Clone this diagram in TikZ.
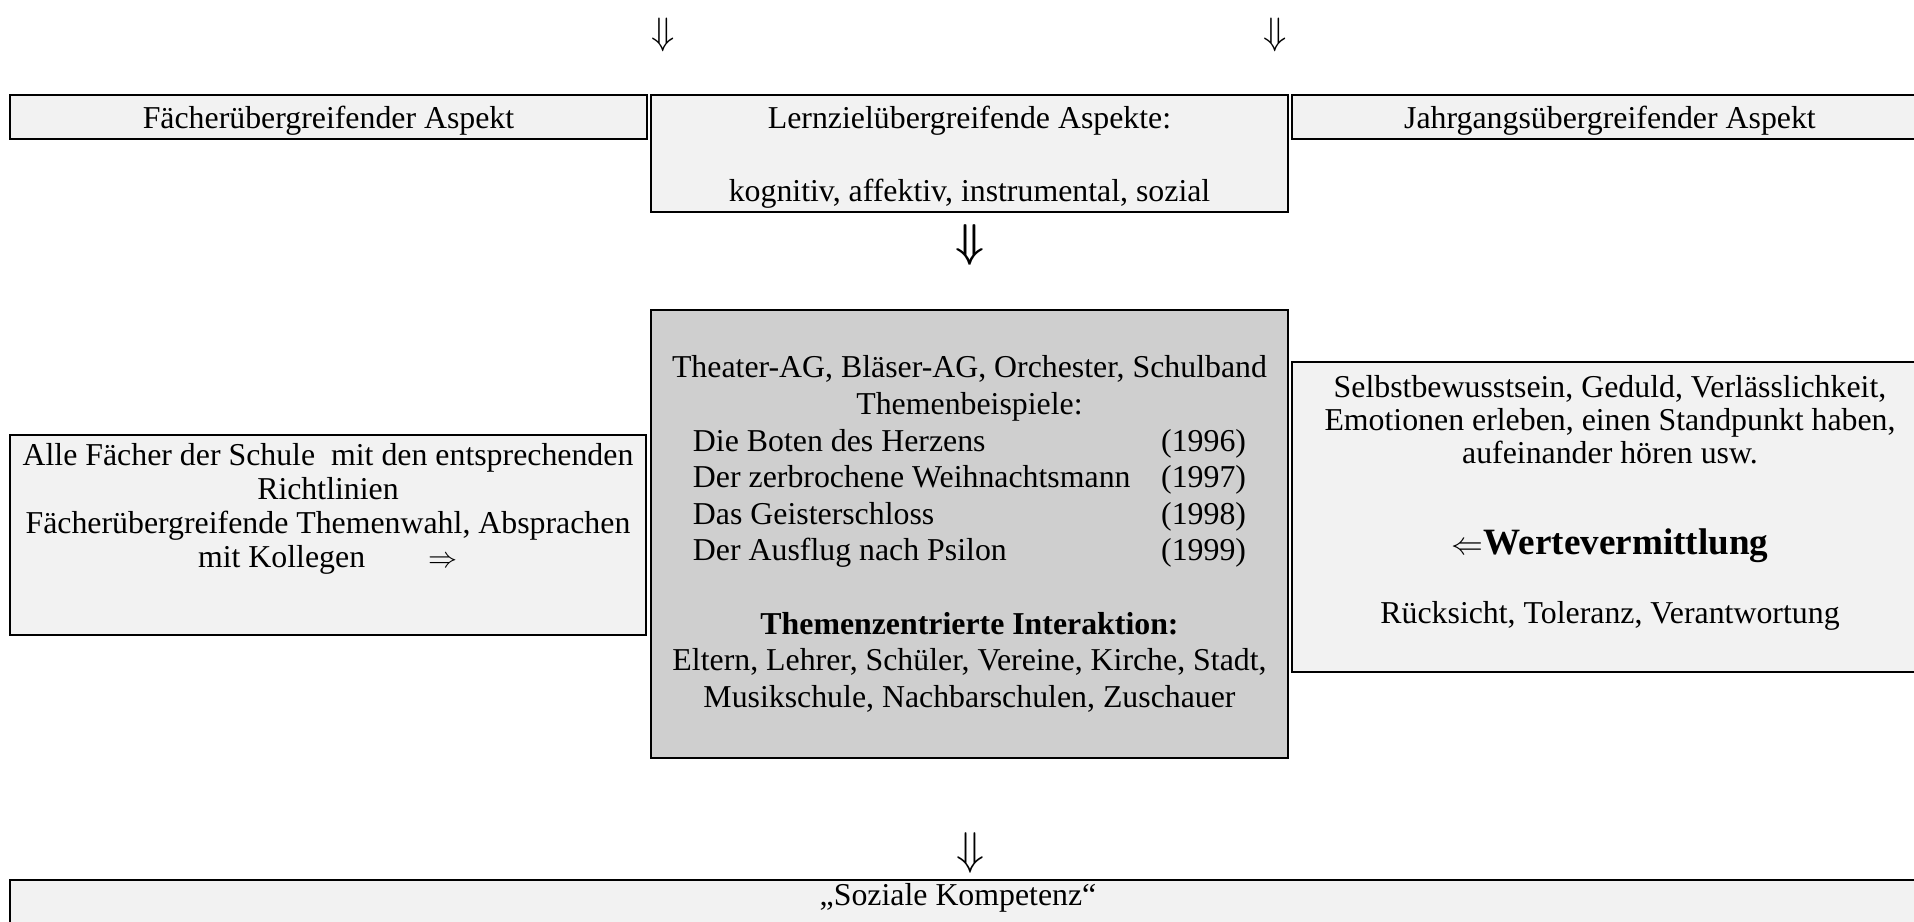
\documentclass[tikz,border=0pt]{standalone}
\usepackage{fontspec}
\setmainfont{Liberation Serif}

\definecolor{hellgrau}{HTML}{F2F2F2}
\definecolor{mittelgrau}{HTML}{CFCFCF}

\tikzset{
	feld/.style={draw,line width=0.75pt,fill=hellgrau,minimum width=240pt,inner xsep=2pt,inner ysep=1pt,
		align=center,font=\fontsize{12}{13.8}\selectfont},
	pfeil/.style={inner sep=0pt,font=\fontsize{14}{14}\selectfont}
}

\begin{document}
\begin{tikzpicture}[x=0.377pt,y=-0.377pt]
				\useasboundingbox (0,0) rectangle (1914,922);
				
				% Arrows on top
				\foreach \n/\x in {pfeila/663,pfeilb/1275}
				\node[pfeil] (\n) at (\x,35) {$\Downarrow$};
				
				% First row
				\node[feld,minimum height=16.6pt,text height=11.5pt,text depth=2.5pt] (faecher) at (328.5,117)
				{Fächerübergreifender Aspekt};
				\node[feld,minimum height=44.1pt,text height=38.6pt] (lernziel) at (969.5,153.5)
				{Lernzielübergreifende Aspekte:\\[13.8pt]kognitiv, affektiv, instrumental, sozial};
				\node[feld,minimum height=16.6pt,text height=11.5pt,text depth=2.5pt] (jahrgang) at (1610,117)
				{Jahrgangsübergreifender Aspekt};
				\node[pfeil,font=\fontsize{19}{19}\selectfont,text height=13.2pt,text depth=3.7pt] (pfeilc) at (970,244)
				{\makebox[0pt][l]{$\Downarrow$}\hspace{0.7pt}$\Downarrow$};
				
				% Second row
				\node[feld,minimum height=75.4pt,text depth=22pt,font=\fontsize{12}{12.8}\selectfont] (alle) at (328,535)
				{Alle Fächer der Schule\ \ mit den entsprechenden\\Richtlinien\\
					Fächerübergreifende Themenwahl, Absprachen\\
					mit Kollegen\hspace{24pt}{\fontsize{11}{11}\selectfont$\Rightarrow$}};
				\node[feld,fill=mittelgrau,minimum height=168.9pt] (projekt) at (969.5,534)
				{Theater-AG, Bläser-AG, Orchester, Schulband\\Themenbeispiele:\\
					\makebox[208.5pt]{Die Boten des Herzens\hfill(1996)}\\
					\makebox[208.5pt]{Der zerbrochene Weihnachtsmann\hfill(1997)}\\
					\makebox[208.5pt]{Das Geisterschloss\hfill(1998)}\\
					\makebox[208.5pt]{Der Ausflug nach Psilon\hfill(1999)}\\[13.8pt]
					\textbf{Themenzentrierte Interaktion:}\\
					Eltern, Lehrer, Schüler, Vereine, Kirche, Stadt,\\
					Musikschule, Nachbarschulen, Zuschauer};
				\node[feld,minimum height=116.9pt,text depth=13pt,font=\fontsize{12}{12.3}\selectfont] (werte) at (1610,517)
				{Selbstbewusstsein, Geduld, Verlässlichkeit,\\
					Emotionen erleben, einen Standpunkt haben,\\
					aufeinander hören usw.\\[22pt]
					{\fontsize{14}{16}\selectfont\bfseries{\fontsize{12}{12}\selectfont$\Leftarrow$}Wertevermittlung}\\[14pt]
					Rücksicht, Toleranz, Verantwortung};
				\node[pfeil,font=\fontsize{16}{16}\selectfont] (pfeild) at (970,853) {$\Downarrow$};
				
				% Last box, cut by the page
				\draw[line width=0.75pt,fill=hellgrau] (10,960) |- (1940,880) -- (1940,960);
				\node[font=\fontsize{12}{13.8}\selectfont] (kompetenz) at (958,898) {„Soziale Kompetenz“};
			\end{tikzpicture}
\end{document}
